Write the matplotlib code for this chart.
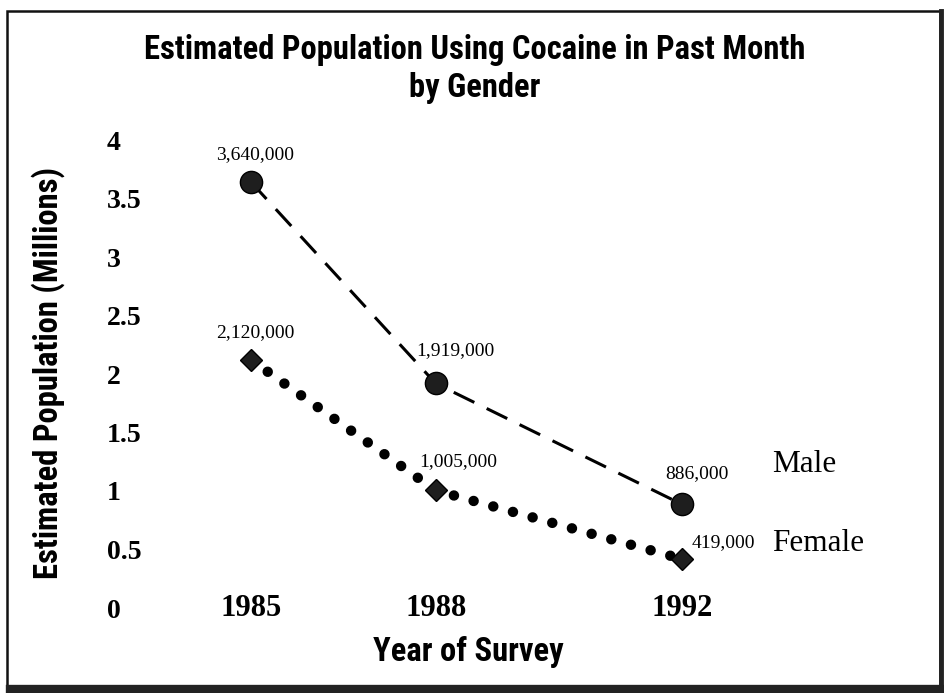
import matplotlib.pyplot as plt
from matplotlib.patches import Rectangle
from matplotlib.lines import Line2D

# values (millions)
years = [1985, 1988, 1992]
male = [3.640, 1.919, 0.886]
female = [2.120, 1.005, 0.419]
male_labels = ['3,640,000', '1,919,000', '886,000']
female_labels = ['2,120,000', '1,005,000', '419,000']
yticks = [0, 0.5, 1, 1.5, 2, 2.5, 3, 3.5, 4]
ytick_labels = ['0', '0.5', '1', '1.5', '2', '2.5', '3', '3.5', '4']

W, H = 944, 693
fig = plt.figure(figsize=(W / 100, H / 100), dpi=100)

heavy = ['Roboto Condensed', 'DejaVu Sans']
serif = ['Liberation Serif', 'DejaVu Serif']

# axes placed in pixels: y=0 at 608, 117 px per million; 1985 at x=251, 1992 at x=682
px_per_year = (682 - 251) / 7
ax = fig.add_axes([107 / W, (H - 608) / H, (930 - 107) / W, 4.2 * 117 / H])
ax.set_xlim(1985 - (251 - 107) / px_per_year, 1985 + (930 - 251) / px_per_year)
ax.set_ylim(0, 4.2)

ax.plot(years, male, color='black', lw=2.2, linestyle=(0, (7.5, 4.5)),
        marker='o', ms=16, mfc='#1e1e1e', mec='black', zorder=3)
ax.plot(years, female, color='black', lw=7.5, linestyle=(0, (0.01, 1.95)),
        dash_capstyle='round', marker='D', ms=11, mfc='#1e1e1e', mec='black', zorder=3)

# data labels, offsets in points
male_off = [(3, 20), (14, 24), (11, 22)]
female_off = [(3, 20), (16, 21), (30, 12)]
for x, y, t, o in zip(years, male, male_labels, male_off):
    ax.annotate(t, (x, y), xytext=o, textcoords='offset points', ha='center', va='center',
                fontsize=14, family=serif)
for x, y, t, o in zip(years, female, female_labels, female_off):
    ax.annotate(t, (x, y), xytext=o, textcoords='offset points', ha='center', va='center',
                fontsize=14, family=serif)

ax.annotate('Male', (years[-1], male[-1]), xytext=(65, 29), textcoords='offset points',
            ha='left', va='center', fontsize=22.5, family=serif)
ax.annotate('Female', (years[-1], female[-1]), xytext=(65, 11), textcoords='offset points',
            ha='left', va='center', fontsize=22.5, family=serif)

ax.set_yticks(yticks)
ax.set_yticklabels(ytick_labels, ha='left', fontsize=20, fontweight='bold', family=serif)
ax.set_xticks(years)
ax.set_xticklabels([str(y) for y in years], va='center', fontsize=22, fontweight='bold', family=serif)
ax.tick_params(axis='y', length=0, pad=0)
ax.tick_params(axis='x', length=0, pad=0)
for s in ax.spines.values():
    s.set_visible(False)
ax.patch.set_alpha(0)

fig.text(475 / W, 1 - 69 / H, 'Estimated Population Using Cocaine in Past Month\nby Gender',
         ha='center', va='center', fontsize=23.5, fontweight='bold', fontstretch='condensed',
         family=heavy, linespacing=1.25)
fig.text(48 / W, 1 - 373 / H, 'Estimated Population (Millions)', rotation=90,
         ha='center', va='center', fontsize=23.5, fontweight='bold', fontstretch='condensed',
         family=heavy)
fig.text(468 / W, 1 - 652 / H, 'Year of Survey', ha='center', va='center',
         fontsize=23.5, fontweight='bold', fontstretch='condensed', family=heavy)

# scanned frame
fig.patches.append(Rectangle((7 / W, 1 - 688 / H), (940 - 7) / W, (688 - 11) / H,
                             transform=fig.transFigure, fill=False, lw=1.8, ec='#111'))
fig.lines.append(Line2D([10 / W, 1], [1 - 689 / H] * 2, transform=fig.transFigure,
                        lw=6, color='#222'))
fig.lines.append(Line2D([940.5 / W] * 2, [1 - 11 / H, 1 - 689 / H], transform=fig.transFigure,
                        lw=3.5, color='#222'))

fig.savefig('out.png', dpi=100)
